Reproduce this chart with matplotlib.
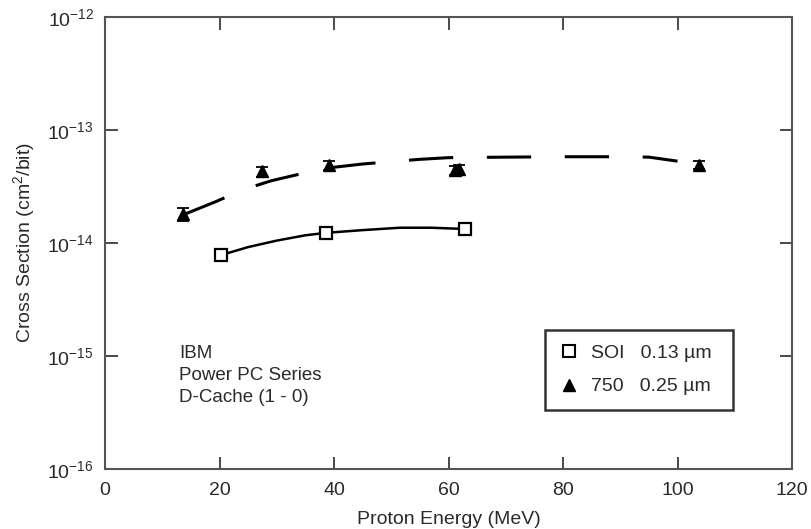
import matplotlib
matplotlib.use("Agg")
import matplotlib.pyplot as plt
from matplotlib.ticker import FixedLocator, NullLocator, FuncFormatter
from matplotlib.lines import Line2D
import math

plt.rcParams['font.family'] = ['Liberation Sans', 'DejaVu Sans']
plt.rcParams['mathtext.fontset'] = 'custom'
plt.rcParams['mathtext.rm'] = 'Liberation Sans'
plt.rcParams['axes.unicode_minus'] = False

# SOI 0.13 um (open squares)
soi_energy = [20.2, 38.6, 62.9]
soi_xs = [7.8e-15, 1.23e-14, 1.33e-14]

# 750 0.25 um (filled triangles)
ppc750_energy = [13.7, 27.4, 39.2, 61.2, 61.9, 103.8]
ppc750_xs = [1.8e-14, 4.3e-14, 4.9e-14, 4.4e-14, 4.5e-14, 4.9e-14]
ppc750_err = [0.25e-14, 0.45e-14, 0.45e-14, 0.4e-14, 0.4e-14, 0.4e-14]

# fit curves
soi_fit_x = [20.2, 25, 30, 35, 38.6, 45, 51.5, 57, 62.9]
soi_fit_y = [7.8e-15, 9.2e-15, 1.05e-14, 1.17e-14, 1.23e-14, 1.30e-14, 1.365e-14, 1.365e-14, 1.33e-14]

ppc_fit_x = [13.7, 19.5, 24, 29, 34, 40, 45, 50, 55, 60, 70, 80, 90, 95, 100]
ppc_fit_y = [1.78e-14, 2.34e-14, 2.95e-14, 3.55e-14, 4.07e-14, 4.68e-14, 5.0e-14,
             5.25e-14, 5.5e-14, 5.69e-14, 5.75e-14, 5.8e-14, 5.8e-14, 5.75e-14, 5.3e-14]

x_ticks = [0, 20, 40, 60, 80, 100, 120]
y_ticks = [1e-16, 1e-15, 1e-14, 1e-13, 1e-12]

TXT = '#2a2a2a'

fig = plt.figure(figsize=(8.11, 5.29), dpi=100)
ax = fig.add_axes([0.1295, 0.1134, 0.8471, 0.8545])

ax.plot(soi_fit_x, soi_fit_y, color='black', lw=1.8, zorder=2)
ax.plot(ppc_fit_x, ppc_fit_y, color='black', lw=2.2, dashes=(14.5, 11), zorder=2)

ax.errorbar(ppc750_energy, ppc750_xs, yerr=ppc750_err, fmt='^', color='black',
            ms=9, capsize=4, elinewidth=1.2, capthick=1.3, zorder=3)
ax.plot(soi_energy, soi_xs, 's', mfc='white', mec='black', mew=1.6, ms=8.5,
        zorder=4, linestyle='none')

ax.set_yscale('log')
ax.set_xlim(0, 120)
ax.set_ylim(1e-16, 1e-12)
ax.xaxis.set_major_locator(FixedLocator(x_ticks))
ax.yaxis.set_major_locator(FixedLocator(y_ticks))
ax.yaxis.set_minor_locator(NullLocator())
ax.yaxis.set_major_formatter(FuncFormatter(
    lambda v, p: r'$\mathregular{10^{%d}}$' % round(math.log10(v))))
ax.tick_params(direction='in', length=9, width=1.2, top=True, right=True,
               labelsize=14, colors=TXT)
ax.tick_params(axis='x', pad=9)
ax.tick_params(axis='y', pad=8)
for s in ax.spines.values():
    s.set_linewidth(1.5)
    s.set_color('#555555')

ax.set_xlabel('Proton Energy (MeV)', fontsize=14, color=TXT, labelpad=9)
ax.set_ylabel('Cross Section (cm$^2$/bit)', fontsize=14, color=TXT, labelpad=7)

ax.text(13.0, 10**-14.9, 'IBM\nPower PC Series\nD-Cache (1 - 0)', fontsize=13.5,
        color=TXT, va='top', ha='left', linespacing=1.4)

hs = [Line2D([], [], marker='s', mfc='white', mec='black', mew=1.5, ms=8, ls='none'),
      Line2D([], [], marker='^', color='black', ms=8, ls='none')]
leg = ax.legend(hs, ['SOI   0.13 \u00b5m', '750   0.25 \u00b5m'], loc='lower left',
                bbox_to_anchor=((545 - 105) / 687, (469 - 410) / 452, 188 / 687, 81 / 452),
                mode='expand', fontsize=14, frameon=True, fancybox=False,
                edgecolor='black', handletextpad=0.6, borderpad=0.75,
                labelspacing=0.8, handlelength=1.0, borderaxespad=0)
leg.get_frame().set_linewidth(1.8)
for t in leg.get_texts():
    t.set_color(TXT)

fig.savefig('out.png', dpi=100)
